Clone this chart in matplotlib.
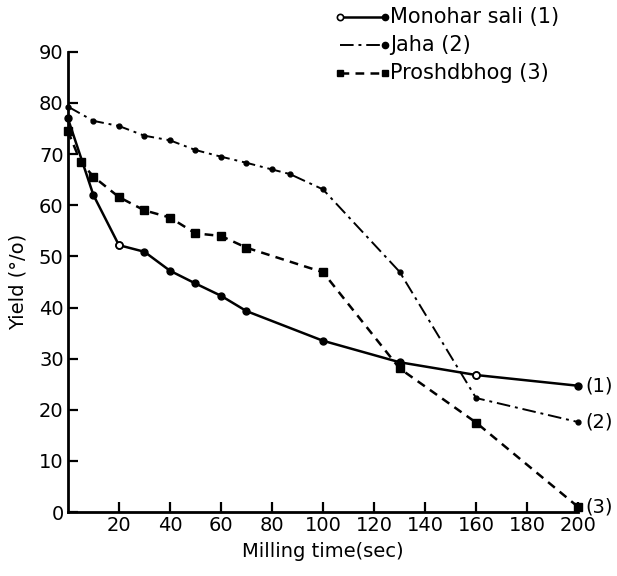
import matplotlib.pyplot as plt
from matplotlib.lines import Line2D

plt.rcParams['font.family'] = ['DejaVu Sans']

# Monohar sali (1)
t1 = [0, 10, 20, 30, 40, 50, 60, 70, 100, 130, 160, 200]
y1 = [77, 62, 52.2, 50.9, 47.2, 44.7, 42.3, 39.3, 33.5, 29.3, 26.8, 24.7]
# Jaha (2)
t2 = [0, 10, 20, 30, 40, 50, 60, 70, 80, 87, 100, 130, 160, 200]
y2 = [79.3, 76.5, 75.5, 73.6, 72.7, 70.8, 69.5, 68.3, 67, 66.1, 63.1, 47, 22.3, 17.6]
# Proshdbhog (3)
t3 = [0, 5, 10, 20, 30, 40, 50, 60, 70, 100, 130, 160, 200]
y3 = [74.5, 68.5, 65.6, 61.6, 59, 57.6, 54.5, 54, 51.7, 46.9, 28.1, 17.5, 1]

names = ['Monohar sali (1)', 'Jaha (2)', 'Proshdbhog (3)']
xticks = [20, 40, 60, 80, 100, 120, 140, 160, 180, 200]
yticks = [0, 10, 20, 30, 40, 50, 60, 70, 80, 90]

fig = plt.figure(figsize=(6.17, 5.76), dpi=100)
ax = fig.add_axes([0.110, 0.111, 0.827, 0.799])

ax.plot(t1, y1, '-', color='black', lw=1.8, marker='o', ms=5, clip_on=False, zorder=3)
# open circles on series 1
ax.plot([t1[2], t1[10]], [y1[2], y1[10]], 'o', ms=5, mfc='white', mec='black', mew=1.3,
        clip_on=False, zorder=4)
ax.plot(t2, y2, color='black', lw=1.4, ls=(0, (7, 2.5, 1.5, 2.5)), marker='o', ms=3.5,
        clip_on=False, zorder=3)
ax.plot(t3, y3, color='black', lw=1.8, ls=(0, (3.5, 2.5)), marker='s', ms=5.5,
        clip_on=False, zorder=3)

ax.set_xlim(0, 200)
ax.set_ylim(0, 90)
ax.set_xticks(xticks)
ax.set_yticks(yticks)
ax.tick_params(direction='in', length=7, width=1.6, labelsize=14, pad=3)
for s in ['top', 'right']:
    ax.spines[s].set_visible(False)
for s in ['left', 'bottom']:
    ax.spines[s].set_linewidth(2)

ax.set_xlabel('Milling time(sec)', fontsize=14, labelpad=5)
ax.set_ylabel('Yield (°/o)', fontsize=14, labelpad=8)

# end labels
for t, y, lab in [(t1[-1], y1[-1], '(1)'), (t2[-1], y2[-1], '(2)'), (t3[-1], y3[-1], '(3)')]:
    ax.annotate(lab, (t, y), xytext=(5, 0), textcoords='offset points',
                va='center', ha='left', fontsize=14, annotation_clip=False)

# legend drawn by hand above the plot
W, H = 617, 576
leg_rows = [
    (17, dict(ls='-', lw=1.8), 'o', 'o'),
    (45, dict(ls=(0, (7, 2.5, 1.5, 2.5)), lw=1.4), None, 'o'),
    (73, dict(ls=(0, (3.5, 2.5)), lw=1.8), 's', 's'),
]
for (py, st, m0, m1), name in zip(leg_rows, names):
    yf = 1 - py / H
    fig.add_artist(Line2D([340 / W, 385 / W], [yf, yf], color='black', **st))
    if m0 == 'o':
        fig.add_artist(Line2D([340 / W], [yf], marker='o', ms=4.5, mfc='white', mec='black',
                              mew=1.2, ls='none'))
    elif m0 == 's':
        fig.add_artist(Line2D([340 / W], [yf], marker='s', ms=4.5, color='black', ls='none'))
    fig.add_artist(Line2D([385 / W], [yf], marker=m1, ms=4.5, color='black', ls='none'))
    fig.text(390 / W, yf, name, fontsize=15, va='center', ha='left')

fig.savefig('out.png', dpi=100)
